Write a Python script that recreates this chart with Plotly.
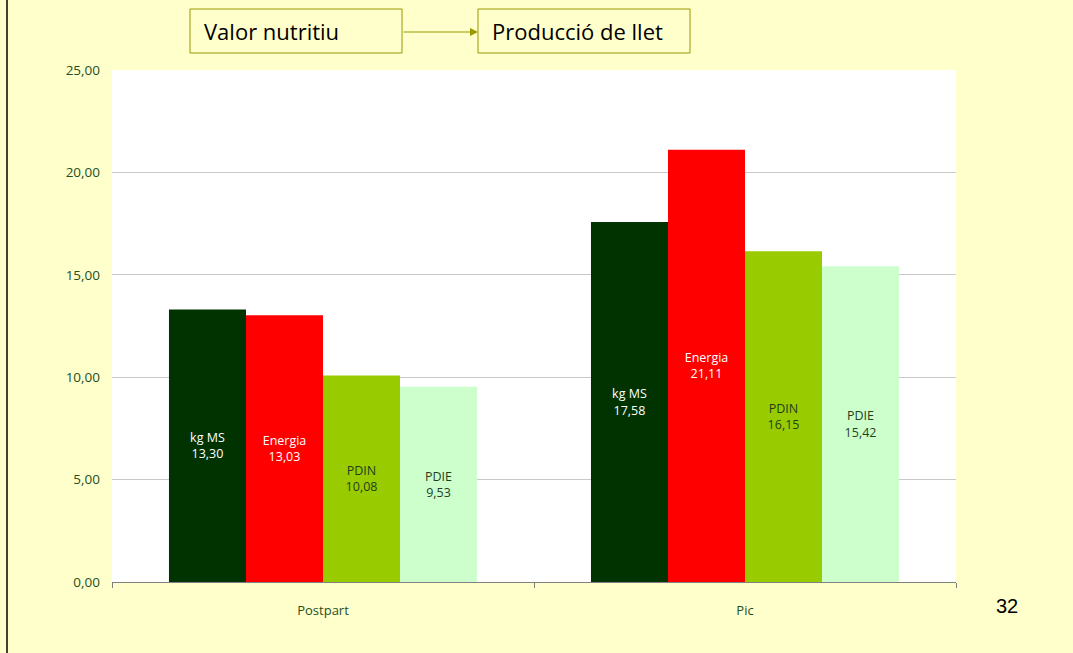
import plotly.graph_objects as go

categories = ["Postpart", "Pic"]
series_names = ["kg MS", "Energia", "PDIN", "PDIE"]
kg_ms = [13.30, 17.58]
energia = [13.03, 21.11]
pdin = [10.08, 16.15]
pdie = [9.53, 15.42]
values = [kg_ms, energia, pdin, pdie]
colors = ["#003300", "#FF0000", "#99CC00", "#CCFFCC"]
text_colors = ["#FFFFFF", "#FFFFFF", "#1F3F1F", "#1F3F1F"]
y_ticks = [0, 5, 10, 15, 20, 25]

W, H = 1073, 653
L, R, T, B = 112, 956, 70, 582

def px(x):
    return (x - L) / (R - L)

def py(y):
    return (B - y) / (B - T)

fig = go.Figure()
for name, vals, c, tc in zip(series_names, values, colors, text_colors):
    fig.add_trace(go.Bar(
        x=categories, y=vals, name=name, marker=dict(color=c, line=dict(width=0)),
        text=[f"{name}<br>{v:.2f}".replace(".", ",") for v in vals],
        textposition="inside", insidetextanchor="middle",
        textfont=dict(color=tc, size=12.5, family="Open Sans"),
        constraintext="none", textangle=0,
    ))

olive = "#999900"
shapes = [
    dict(type="line", xref="paper", yref="paper", x0=px(7), x1=px(7), y0=py(0), y1=py(H),
         line=dict(color="#000000", width=1.5)),
    dict(type="rect", xref="paper", yref="paper", x0=px(190), x1=px(402), y0=py(53), y1=py(9),
         line=dict(color=olive, width=1), fillcolor="#FFFFCC"),
    dict(type="rect", xref="paper", yref="paper", x0=px(478), x1=px(690), y0=py(53), y1=py(9),
         line=dict(color=olive, width=1), fillcolor="#FFFFCC"),
]
annotations = [
    dict(xref="paper", yref="paper", x=px(202), y=py(31), text="Valor nutritiu", showarrow=False,
         xanchor="left", yanchor="middle", font=dict(size=22, color="#000000", family="Open Sans")),
    dict(xref="paper", yref="paper", x=px(490), y=py(31), text="Producció de llet", showarrow=False,
         xanchor="left", yanchor="middle", font=dict(size=22, color="#000000", family="Open Sans")),
    dict(xref="paper", yref="paper", x=px(478), y=py(32), ax=-(478 - 402), ay=0,
         showarrow=True, arrowhead=2, arrowsize=1.6, arrowwidth=1, arrowcolor=olive, text="",
         standoff=0, startstandoff=0),
    dict(xref="paper", yref="paper", x=px(1007), y=py(606), text="32", showarrow=False,
         xanchor="center", yanchor="middle", font=dict(size=20, color="#000000", family="Liberation Sans")),
]

fig.update_layout(
    width=W, height=H,
    margin=dict(l=L, r=W - R, t=T, b=H - B, pad=0),
    paper_bgcolor="#FFFFCC", plot_bgcolor="#FFFFFF",
    barmode="group", bargap=0.27, bargroupgap=0,
    showlegend=False, separators=",.",
    shapes=shapes, annotations=annotations,
    font=dict(family="Open Sans"),
)
fig.update_xaxes(
    showline=True, linecolor="#808080", linewidth=1, ticks="outside", tickson="boundaries",
    ticklen=5, tickcolor="#808080", tickfont=dict(size=13, color="#1F4F1F"), showgrid=False,
    ticklabelstandoff=16,
)
fig.update_yaxes(
    range=[0, 25], tickvals=y_ticks, ticktext=[f"{v:.2f}".replace(".", ",") for v in y_ticks],
    showgrid=True, gridcolor="#C8C8C8", gridwidth=1, showline=False, zeroline=False,
    ticks="", tickfont=dict(size=13.5, color="#1F4F1F"), ticklabelstandoff=11,
)
fig.write_html("out.html", config={"displayModeBar": False},
               post_script="document.body.style.margin='0';document.body.style.overflow='hidden';")
